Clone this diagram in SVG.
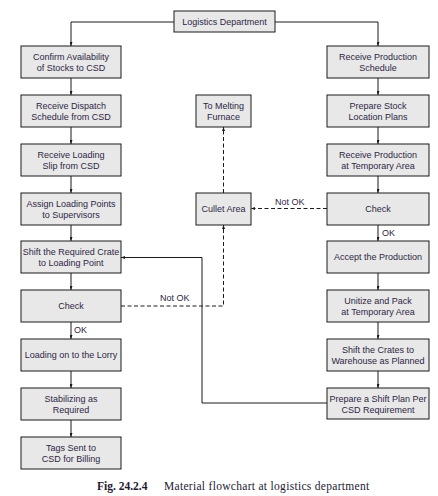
<svg xmlns="http://www.w3.org/2000/svg" width="438" height="496" viewBox="0 0 438 496">
<style>
.box{fill:#e8e8e8;stroke:#1a1a1a;stroke-width:1}
.t{font-family:"Liberation Sans",Arial,sans-serif;font-size:9px;fill:#2e2644;text-anchor:middle}
.lbl{font-family:"Liberation Sans",Arial,sans-serif;font-size:9px;fill:#2e2644}
.c{fill:none;stroke:#1a1a1a;stroke-width:1}
.d{fill:none;stroke:#1a1a1a;stroke-width:1;stroke-dasharray:4,2.5}
.cap{font-family:"Liberation Serif","Times New Roman",serif;font-size:11.5px;fill:#1c1a33}
</style>
<defs>
<marker id="ah" markerWidth="4" markerHeight="3" refX="4" refY="1.5" orient="auto" markerUnits="userSpaceOnUse">
<path d="M0,0 L4,1.5 L0,3 Z" fill="#1a1a1a"/>
</marker>
</defs>
<rect width="438" height="496" fill="#ffffff"/>
<g id="connectors">
<path class="c" d="M174,22 H71 V46" marker-end="url(#ah)"/>
<path class="c" d="M275,22 H378 V46" marker-end="url(#ah)"/>
<path class="c" d="M71,78 V95" marker-end="url(#ah)"/>
<path class="c" d="M71,127 V144" marker-end="url(#ah)"/>
<path class="c" d="M71,176 V193" marker-end="url(#ah)"/>
<path class="c" d="M71,225 V241" marker-end="url(#ah)"/>
<path class="c" d="M71,273 V290" marker-end="url(#ah)"/>
<path class="c" d="M71,322 V339" marker-end="url(#ah)"/>
<path class="c" d="M71,371 V388" marker-end="url(#ah)"/>
<path class="c" d="M71,420 V437" marker-end="url(#ah)"/>
<path class="c" d="M378,78 V95" marker-end="url(#ah)"/>
<path class="c" d="M378,127 V144" marker-end="url(#ah)"/>
<path class="c" d="M378,176 V193" marker-end="url(#ah)"/>
<path class="c" d="M378,225 V241" marker-end="url(#ah)"/>
<path class="c" d="M378,273 V290" marker-end="url(#ah)"/>
<path class="c" d="M378,322 V339" marker-end="url(#ah)"/>
<path class="c" d="M378,371 V388" marker-end="url(#ah)"/>
<path class="d" d="M327,208.5 H251" marker-end="url(#ah)"/>
<path class="d" d="M223.5,193 V127" marker-end="url(#ah)"/>
<path class="d" d="M121,306 H223.5 V225" marker-end="url(#ah)"/>
<path class="c" d="M327,403 H202 V257.5 H121" marker-end="url(#ah)"/>
<text class="lbl" x="275" y="205">Not OK</text>
<text class="lbl" x="382" y="236">OK</text>
<text class="lbl" x="160" y="301">Not OK</text>
<text class="lbl" x="74" y="333">OK</text>
</g>
<g id="n-logistics"><rect class="box" x="174" y="11" width="101" height="21"/><text class="t" x="224.5" y="25">Logistics Department</text></g>
<g id="n-confirm"><rect class="box" x="21" y="46" width="100" height="32"/><text class="t" x="71" y="60.3">Confirm Availability</text><text class="t" x="71" y="71">of Stocks to CSD</text></g>
<g id="n-dispatch"><rect class="box" x="21" y="95" width="100" height="32"/><text class="t" x="71" y="109.3">Receive Dispatch</text><text class="t" x="71" y="120">Schedule from CSD</text></g>
<g id="n-loadslip"><rect class="box" x="21" y="144" width="100" height="32"/><text class="t" x="71" y="158.3">Receive Loading</text><text class="t" x="71" y="169">Slip from CSD</text></g>
<g id="n-assign"><rect class="box" x="21" y="193" width="100" height="32"/><text class="t" x="71" y="207.3">Assign Loading Points</text><text class="t" x="71" y="218">to Supervisors</text></g>
<g id="n-shiftcrate"><rect class="box" x="21" y="241" width="100" height="32"/><text class="t" x="71" y="255.3">Shift the Required Crate</text><text class="t" x="71" y="266">to Loading Point</text></g>
<g id="n-check1"><rect class="box" x="21" y="290" width="100" height="32"/><text class="t" x="71" y="309.3">Check</text></g>
<g id="n-lorry"><rect class="box" x="21" y="339" width="100" height="32"/><text class="t" x="71" y="358.3">Loading on to the Lorry</text></g>
<g id="n-stabilize"><rect class="box" x="21" y="388" width="100" height="32"/><text class="t" x="71" y="402.3">Stabilizing as</text><text class="t" x="71" y="413">Required</text></g>
<g id="n-tags"><rect class="box" x="21" y="437" width="100" height="32"/><text class="t" x="71" y="451.3">Tags Sent to</text><text class="t" x="71" y="462">CSD for Billing</text></g>
<g id="n-melting"><rect class="box" x="196" y="95" width="55" height="32"/><text class="t" x="223.5" y="109.3">To Melting</text><text class="t" x="223.5" y="120">Furnace</text></g>
<g id="n-cullet"><rect class="box" x="196" y="193" width="55" height="32"/><text class="t" x="223.5" y="212.3">Cullet Area</text></g>
<g id="n-prodsched"><rect class="box" x="327" y="46" width="102" height="32"/><text class="t" x="378" y="60.3">Receive Production</text><text class="t" x="378" y="71">Schedule</text></g>
<g id="n-stockplan"><rect class="box" x="327" y="95" width="102" height="32"/><text class="t" x="378" y="109.3">Prepare Stock</text><text class="t" x="378" y="120">Location Plans</text></g>
<g id="n-recvprod"><rect class="box" x="327" y="144" width="102" height="32"/><text class="t" x="378" y="158.3">Receive Production</text><text class="t" x="378" y="169">at Temporary Area</text></g>
<g id="n-check2"><rect class="box" x="327" y="193" width="102" height="32"/><text class="t" x="378" y="212.3">Check</text></g>
<g id="n-accept"><rect class="box" x="327" y="241" width="102" height="32"/><text class="t" x="378" y="260.3">Accept the Production</text></g>
<g id="n-unitize"><rect class="box" x="327" y="290" width="102" height="32"/><text class="t" x="378" y="304.3">Unitize and Pack</text><text class="t" x="378" y="315">at Temporary Area</text></g>
<g id="n-shiftwh"><rect class="box" x="327" y="339" width="102" height="32"/><text class="t" x="378" y="353.3">Shift the Crates to</text><text class="t" x="378" y="364">Warehouse as Planned</text></g>
<g id="n-shiftplan"><rect class="box" x="327" y="388" width="102" height="31"/><text class="t" x="378" y="402">Prepare a Shift Plan Per</text><text class="t" x="378" y="412.7">CSD Requirement</text></g>
<text class="cap" x="97" y="490"><tspan font-weight="bold">Fig. 24.2.4</tspan><tspan x="164" letter-spacing="0.3">Material flowchart at logistics department</tspan></text>
</svg>
